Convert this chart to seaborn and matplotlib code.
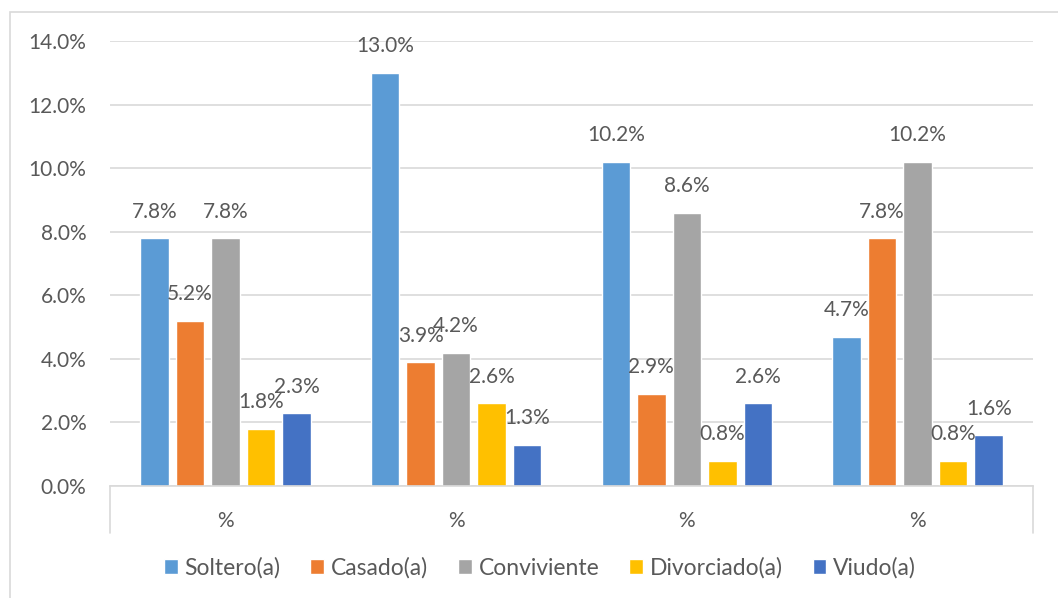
import pandas as pd
import numpy as np
import matplotlib.pyplot as plt
import seaborn as sns
from matplotlib.patches import Rectangle

# Datos del gráfico
grupos = ["g1", "g2", "g3", "g4"]
etiquetas_x = ["%", "%", "%", "%"]
estados = ["Soltero(a)", "Casado(a)", "Conviviente", "Divorciado(a)", "Viudo(a)"]
soltero = [7.8, 13.0, 10.2, 4.7]
casado = [5.2, 3.9, 2.9, 7.8]
conviviente = [7.8, 4.2, 8.6, 10.2]
divorciado = [1.8, 2.6, 0.8, 0.8]
viudo = [2.3, 1.3, 2.6, 1.6]
colores = ["#5B9BD5", "#ED7D31", "#A5A5A5", "#FFC000", "#4472C4"]

series = [soltero, casado, conviviente, divorciado, viudo]
filas = []
for estado, valores in zip(estados, series):
    for g, v in zip(grupos, valores):
        filas.append({"grupo": g, "estado": estado, "valor": v})
df = pd.DataFrame(filas)

sns.set_style("white")
plt.rcParams['font.family'] = ['Lato', 'DejaVu Sans']
gris_texto = "#595959"

fig = plt.figure(figsize=(10.58, 5.98), dpi=100)
ax = fig.add_axes([110 / 1058, 112 / 598, 923 / 1058, 445 / 598])

sns.barplot(data=df, x="grupo", y="valor", hue="estado", hue_order=estados,
            palette=colores, width=0.77, gap=0.2, ax=ax, legend=True,
            saturation=1, errorbar=None)

ax.set_ylim(0, 14)
ax.set_xlim(-0.5, 3.5)
ax.set_yticks(np.arange(0, 15, 2))
ax.set_yticklabels([f"{t:.1f}%" for t in np.arange(0, 15, 2)], fontsize=15, color=gris_texto)
ax.set_xticks(range(4))
ax.set_xticklabels(etiquetas_x, fontsize=15, color=gris_texto)
ax.tick_params(axis="x", length=0, pad=18)
ax.tick_params(axis="y", length=0, pad=17)
ax.set_xlabel("")
ax.set_ylabel("")
ax.yaxis.grid(True, color="#D9D9D9", linewidth=1.2)
ax.set_axisbelow(True)
for lado in ["top", "right", "left"]:
    ax.spines[lado].set_visible(False)
ax.spines["bottom"].set_color("#D9D9D9")
ax.spines["bottom"].set_linewidth(1.2)

# lineas laterales bajo el eje
for xs in [-0.5, 3.5]:
    ax.plot([xs, xs], [0, -0.105], transform=ax.get_xaxis_transform(),
            color="#D9D9D9", linewidth=1.2, clip_on=False)

# etiquetas de datos
for cont in ax.containers:
    for barra in cont:
        h = barra.get_height()
        ax.annotate(f"{h:.1f}%", (barra.get_x() + barra.get_width() / 2, h),
                    xytext=(0, 19), textcoords="offset points",
                    ha="center", va="center", fontsize=15, color=gris_texto)

handles, labels = ax.get_legend_handles_labels()
ax.legend_.remove()
fig.legend(handles, labels, loc="center", bbox_to_anchor=(540 / 1058, 1 - 568 / 598),
           ncol=5, frameon=False, fontsize=16.5, handlelength=0.6, handleheight=0.6,
           handletextpad=0.3, columnspacing=1.3, labelcolor=gris_texto)

# borde del grafico
fig.patches.append(Rectangle((10 / 1058, -0.1), 1.2, 1 - 12 / 598 + 0.1,
                             transform=fig.transFigure, fill=False,
                             edgecolor="#D9D9D9", linewidth=1.2))

fig.savefig("out.png", dpi=100)
